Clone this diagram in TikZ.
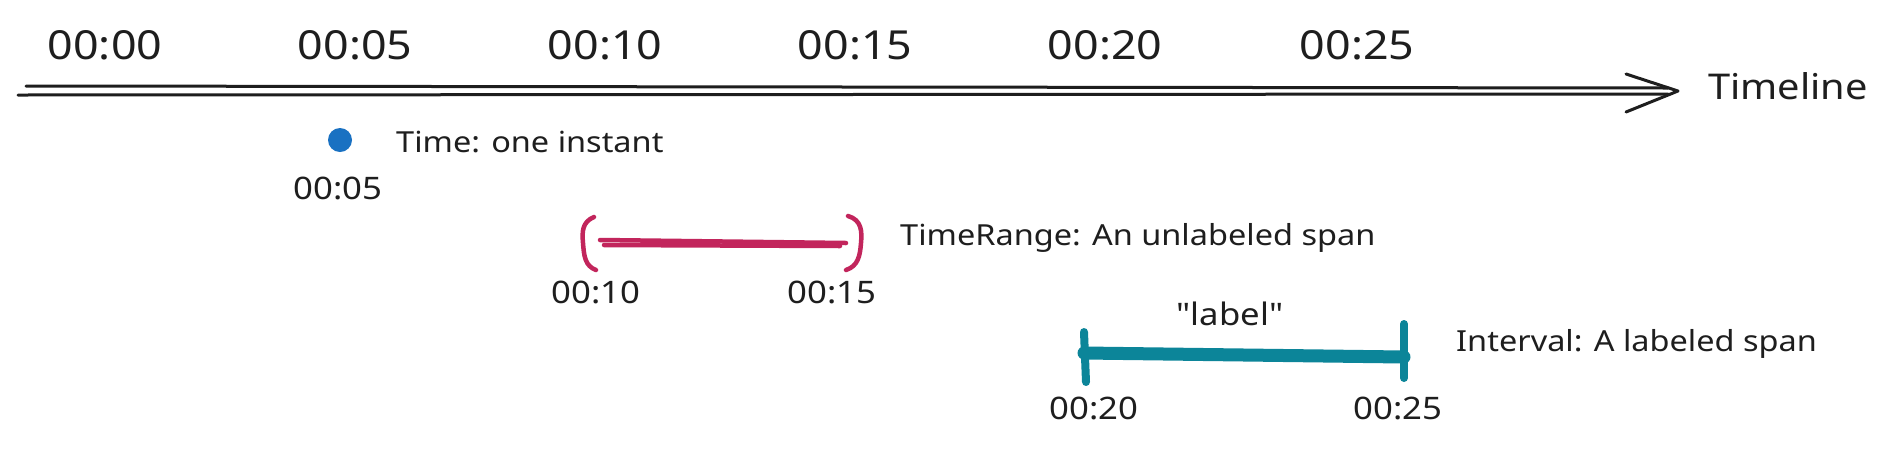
\documentclass[tikz,border=0pt]{standalone}
\usepackage{fontspec}
\setmainfont{Noto Sans}[FakeStretch=1.12]
\definecolor{ink}{HTML}{1E1E1E}
\definecolor{xblue}{HTML}{1971C2}
\definecolor{xpink}{HTML}{C2255C}
\definecolor{xteal}{HTML}{0C8599}
\begin{document}
\begin{tikzpicture}[x=1pt,y=-1pt,
  txt/.style={text=ink, inner sep=0pt},
  tick/.style={txt, font=\fontsize{40}{42}\selectfont},
  stamp/.style={txt, font=\fontsize{31}{33}\selectfont},
  desc/.style={txt, anchor=west, font=\fontsize{29}{31}\selectfont},
  axis/.style={draw=ink, line width=3pt, line cap=round, line join=round},
  pinkline/.style={draw=xpink, line width=4.5pt, line cap=round},
  tealline/.style={draw=xteal, line cap=round},
]
\useasboundingbox[fill=white] (0,0) rectangle (1882,451);

% top ticks
\node[tick] (t00) at (105,45) {00:00};
\node[tick] (t05) at (355,45) {00:05};
\node[tick] (t10) at (605,45) {00:10};
\node[tick] (t15) at (855,45) {00:15};
\node[tick] (t20) at (1105,45) {00:20};
\node[tick] (t25) at (1357,45) {00:25};

% timeline
\coordinate (a1) at (26,86);
\coordinate (a2) at (18,95);
\coordinate (e1) at (1668,88);
\coordinate (e2) at (1668,94);
\coordinate (tip) at (1678,91);
\coordinate (w1) at (1626,74);
\coordinate (w2) at (1626,112);
\draw[axis] (a1) -- (e1);
\draw[axis] (a2) -- (e2);
\draw[axis] (w1) -- (tip) -- (w2);
\node[desc, font=\fontsize{35.5}{37}\selectfont] (tl) at (1708,86) {Timeline};

% Time
\node[circle, fill=xblue, minimum size=24pt, inner sep=0pt] (dot) at (340,140) {};
\node[desc] (tdesc) at (396,142) {Time: one instant};
\node[stamp] (s05) at (338,188) {00:05};

% TimeRange
\draw[pinkline, line join=round] (594,217) .. controls (582,222) and (582,232) .. (583,243) .. controls (584,256) and (585,266) .. (596,270);
\draw[pinkline, line join=round] (848,216) .. controls (862,220) and (862,232) .. (861,243) .. controls (860,256) and (858,266) .. (846,270);
\coordinate (r1) at (600,240);
\coordinate (r2) at (846,243);
\coordinate (r3) at (604,245);
\coordinate (r4) at (840,246);
\draw[pinkline] (r1) -- (r2);
\draw[pinkline] (r3) -- (r4);
\node[desc] (rdesc) at (900,238) {TimeRange: An unlabeled span};
\node[stamp] (s10) at (596,292) {00:10};
\node[stamp] (s15) at (832,292) {00:15};

% Interval
\coordinate (b1) at (1084,332);
\coordinate (b2) at (1086,382);
\coordinate (c1) at (1404,324);
\coordinate (c2) at (1404,378);
\coordinate (m1) at (1084,353);
\coordinate (m2) at (1404,357);
\draw[tealline, line width=13pt] (m1) -- (m2);
\draw[tealline, line width=8pt] (b1) -- (b2);
\draw[tealline, line width=8pt] (c1) -- (c2);
\node[stamp] (lab) at (1230,314) {\addfontfeature{Ligatures=TeXOff}"label"};
\node[desc] (idesc) at (1456,344) {Interval: A labeled span};
\node[stamp] (s20) at (1094,408) {00:20};
\node[stamp] (s25) at (1398,408) {00:25};
\end{tikzpicture}
\end{document}
